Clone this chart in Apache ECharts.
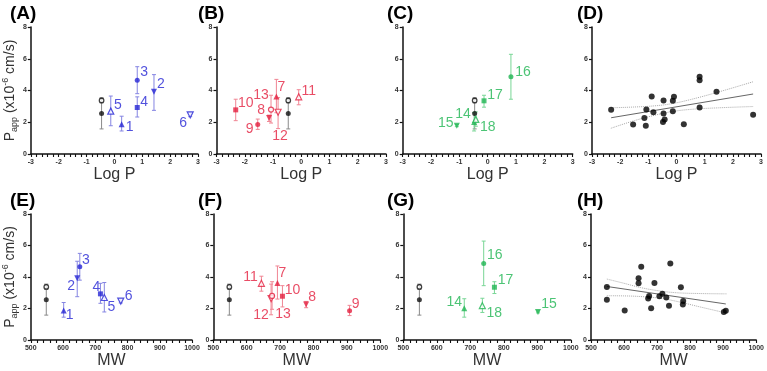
<!DOCTYPE html>
<html><head><meta charset="utf-8">
<script src="https://cdn.jsdelivr.net/npm/echarts@6/dist/echarts.min.js"></script>
<style>html,body{margin:0;padding:0;background:#fff}#c{width:767px;height:371px}</style>
</head><body><div id="c"></div>
<script>
// ---------------- DATA ----------------
const compoundIds = ['1','2','3','4','5','6','7','8','9','10','11','12','13','14','15','16','17','18'];
const logP     = [0.26, 1.42, 0.82, 0.82, -0.13, 2.72, -0.88, -1.14, -1.54, -2.32, -0.09, -0.82, -1.07, -0.48, -1.09, 0.82, -0.13, -0.42];
const mw       = [602, 644, 652, 716, 728, 779, 692, 778, 908, 707, 644, 673, 676, 682, 902, 740, 772, 736];
const papp     = [1.87, 3.92, 4.65, 2.93, 2.70, 2.47, 3.62, 2.26, 1.86, 2.78, 3.60, 2.63, 2.80, 2.02, 1.78, 4.86, 3.35, 2.18];
const pappLow  = [1.45, 2.75, 3.80, 2.33, 1.78, 2.35, 2.60, 2.05, 1.55, 2.10, 3.10, 1.60, 1.95, 1.45, 1.72, 3.45, 2.95, 1.75];
const pappHigh = [2.38, 5.00, 5.50, 3.60, 3.65, 2.62, 4.70, 2.45, 2.20, 3.45, 4.05, 3.55, 3.70, 2.62, 1.85, 6.28, 3.70, 2.65];
const groupOf  = [0,0,0,0,0,0, 1,1,1,1,1,1,1, 2,2,2,2,2];
const ctrlLogP = [-0.46, -0.46];
const ctrlMW   = [548, 548];
const ctrlPapp = [3.37, 2.55];
const ctrlLow  = [3.22, 1.58];
const ctrlHigh = [3.55, 3.50];
const yTickValues = [0, 2, 4, 6, 8];
const logPTickValues = [-3, -2, -1, 0, 1, 2, 3];
const mwTickValues = [500, 600, 700, 800, 900, 1000];
const minorPerMajor = 5;
// 95% confidence bands
const ciLogPX     = [-2.33, -1.5, -0.8, -0.2, 0.5, 1.5, 2.72];
const ciLogPUpper = [2.91, 2.96, 3.03, 3.16, 3.43, 3.91, 4.55];
const ciLogPLower = [1.62, 2.10, 2.43, 2.66, 2.81, 2.91, 2.99];
const ciMWX       = [548, 600, 650, 706, 760, 830, 912];
const ciMWUpper   = [3.87, 3.60, 3.33, 3.12, 3.00, 2.95, 2.93];
const ciMWLower   = [2.81, 2.80, 2.76, 2.66, 2.45, 2.10, 1.70];
const panelLetters = ['(A)','(B)','(C)','(D)','(E)','(F)','(G)','(H)'];

// ---------------- STYLE ----------------
const FONT = 'Arial, "Liberation Sans", Helvetica, sans-serif';
const groupColors = ['#2626d4', '#e41f3f', '#1fb552'];
const groupBarColors = ['#8585e2', '#f08593', '#79d696'];
const ctrlBarColor = '#8a8a8a';
const shapes = [
  ['triangle',0,false],['triangle',180,false],['circle',0,false],['rect',0,false],['triangle',0,true],['triangle',180,true],
  ['triangle',0,false],['triangle',180,false],['circle',0,false],['rect',0,false],['triangle',0,true],['triangle',180,true],['circle',0,true],
  ['triangle',0,false],['triangle',180,false],['circle',0,false],['rect',0,false],['triangle',0,true]
];
const labelOffsetTop = [[8,3],[7,-8],[7,-8],[7,-5],[7,-6],[-7,8],[5,-9],[-8,-8],[-8,5],[10,-7],[10,-6],[2,24],[-10,-14],[-11,-8],[-11,-3],[12,-5],[11,-6],[12,8]];
const labelOffsetBot = [[6,5],[-6,8],[6,-7],[-4,-7],[7,10],[8,-5],[5,-10],[6,-7],[6,-7],[10,-6],[-11,-6],[-10,17],[11,18],[-10,-6],[11,-8],[11,-8],[11,-7],[12,7]];
const grids = [
  {left:26.5, top:27, width:171.5, height:127},
  {left:216.5, top:27, width:169.5, height:127},
  {left:402.7, top:27, width:170, height:127},
  {left:592, top:27, width:169, height:127},
  {left:26, top:214, width:166, height:126},
  {left:213.3, top:214, width:167, height:126},
  {left:403.3, top:214, width:167.5, height:126},
  {left:591, top:214, width:168.5, height:126}
];
const letterPos = [[10,4],[198,4],[387,4],[577,4],[10,191],[198,191],[387,191],[577,191]];

// ---------------- BUILD ----------------
const axisLineStyle = {color:'#111', width:1.5};
function xAxisFor(i){
  const top = i < 4;
  const ticks = top ? logPTickValues : mwTickValues;
  const major = ticks[1] - ticks[0];
  const step = major / minorPerMajor;
  return {
    gridIndex:i, type:'value',
    min: ticks[0], max: ticks[ticks.length-1], interval: step,
    name: top ? 'Log P' : 'MW', nameLocation:'middle', nameGap: 13,
    nameTextStyle:{fontFamily:FONT, fontSize:16, color:'#333'},
    axisLine:{onZero:false, lineStyle:axisLineStyle},
    axisTick:{length:3, lineStyle:{color:'#111', width:1.1}},
    splitLine:{show:false},
    axisLabel:{fontFamily:FONT, fontSize:7, fontWeight:'bold', color:'#333', margin:5,
      showMinLabel:true, showMaxLabel:true,
      formatter: v => {
        const r = Math.round(v / major) * major;
        return Math.abs(v - r) < step * 1e-3 ? String(r) : '';
      }}
  };
}
function yAxisFor(i){
  const ax = {
    gridIndex:i, type:'value', min:yTickValues[0], max:yTickValues[yTickValues.length-1], interval:yTickValues[1]-yTickValues[0],
    axisLine:{show:true, onZero:false, lineStyle:axisLineStyle},
    axisTick:{show:true, length:3, lineStyle:{color:'#111', width:1.2}},
    splitLine:{show:false},
    axisLabel:{fontFamily:FONT, fontSize:7, fontWeight:'bold', color:'#333', margin:4}
  };
  if (i === 0 || i === 4) {
    ax.name = '{m|P}{s|app}{m| (x10}{u|-6}{m| cm/s)}';
    ax.nameLocation = 'middle';
    ax.nameGap = 9;
    ax.nameTextStyle = {rich:{
      m:{fontFamily:FONT, fontSize:14, color:'#333', lineHeight:18, verticalAlign:'middle'},
      s:{fontFamily:FONT, fontSize:9, color:'#333', lineHeight:18, verticalAlign:'bottom'},
      u:{fontFamily:FONT, fontSize:9, color:'#333', lineHeight:18, verticalAlign:'top'}
    }};
  }
  return ax;
}

function errorBarRender(params, api){
  const x = api.value(0), lo = api.value(1), hi = api.value(2);
  const a = api.coord([x, lo]), b = api.coord([x, hi]);
  const col = api.visual('color');
  const w = 2;
  const st = {stroke: col, lineWidth: 1};
  return {type:'group', children:[
    {type:'line', shape:{x1:a[0], y1:a[1], x2:b[0], y2:b[1]}, style:st},
    {type:'line', shape:{x1:a[0]-w, y1:a[1], x2:a[0]+w, y2:a[1]}, style:st},
    {type:'line', shape:{x1:b[0]-w, y1:b[1], x2:b[0]+w, y2:b[1]}, style:st}
  ]};
}

const series = [];
for (let g = 0; g < 3; g++) {
  for (let row = 0; row < 2; row++) {
    const gi = row === 0 ? g : g + 4;
    const xs = row === 0 ? logP : mw;
    const cx = row === 0 ? ctrlLogP : ctrlMW;
    const offs = row === 0 ? labelOffsetTop : labelOffsetBot;
    const errData = [];
    const ptData = [];
    for (let k = 0; k < ctrlPapp.length; k++) {
      errData.push({value:[cx[k], ctrlLow[k], ctrlHigh[k]], itemStyle:{color:ctrlBarColor}});
      ptData.push({value:[cx[k], ctrlPapp[k]], symbol:'circle', symbolSize: k === 0 ? 4.5 : 5,
        itemStyle: k === 0 ? {color:'#fff', borderColor:'#111', borderWidth:1.3} : {color:'#111'}});
    }
    for (let j = 0; j < compoundIds.length; j++) {
      if (groupOf[j] !== g) continue;
      const col = groupColors[g];
      errData.push({value:[xs[j], pappLow[j], pappHigh[j]], itemStyle:{color:groupBarColors[g]}});
      const sh = shapes[j];
      ptData.push({
        value:[xs[j], papp[j]], symbol: sh[0], symbolRotate: sh[1],
        symbolSize: sh[0] === 'rect' ? 5 : (sh[0] === 'circle' ? 5 : 6),
        itemStyle: sh[2] ? {color:'#fff', borderColor:col, borderWidth:1.2} : {color:col},
        label:{show:true, formatter: compoundIds[j], position:'inside', offset: offs[j],
          color: col, fontSize: 14, fontFamily: FONT}
      });
    }
    series.push({type:'custom', xAxisIndex:gi, yAxisIndex:gi, renderItem:errorBarRender,
      encode:{x:0, y:[1,2]}, data:errData, z:2, silent:true, clip:false});
    series.push({type:'scatter', xAxisIndex:gi, yAxisIndex:gi, data:ptData, z:3, silent:true});
  }
}

function linreg(xs, ys){
  const n = xs.length;
  let mx = 0, my = 0;
  for (let i = 0; i < n; i++) { mx += xs[i]; my += ys[i]; }
  mx /= n; my /= n;
  let sxx = 0, sxy = 0;
  for (let i = 0; i < n; i++) { sxx += (xs[i]-mx)*(xs[i]-mx); sxy += (xs[i]-mx)*(ys[i]-my); }
  const b = sxy / sxx;
  return {b, a: my - b*mx};
}
const allP = papp.concat(ctrlPapp);
[[3, logP.concat(ctrlLogP), ciLogPX, ciLogPUpper, ciLogPLower],
 [7, mw.concat(ctrlMW), ciMWX, ciMWUpper, ciMWLower]].forEach(([gi, xs, cX, cU, cL]) => {
  const r = linreg(xs, allP);
  const xmin = Math.min(...xs), xmax = Math.max(...xs);
  series.push({type:'line', xAxisIndex:gi, yAxisIndex:gi, data:[[xmin, r.a + r.b*xmin],[xmax, r.a + r.b*xmax]],
    showSymbol:false, lineStyle:{color:'#666', width:1}, z:2, silent:true});
  series.push({type:'line', xAxisIndex:gi, yAxisIndex:gi, data:cX.map((x,i)=>[x,cU[i]]), smooth:0.4,
    showSymbol:false, lineStyle:{color:'#aaa', width:1, type:'dotted'}, z:2, silent:true});
  series.push({type:'line', xAxisIndex:gi, yAxisIndex:gi, data:cX.map((x,i)=>[x,cL[i]]), smooth:0.4,
    showSymbol:false, lineStyle:{color:'#aaa', width:1, type:'dotted'}, z:2, silent:true});
  series.push({type:'scatter', xAxisIndex:gi, yAxisIndex:gi, data:xs.map((x,i)=>[x, allP[i]]),
    symbol:'circle', symbolSize:6, itemStyle:{color:'#000'}, z:3, silent:true});
});

const option = {
  animation:false,
  backgroundColor:'#fff',
  grid: grids.map(g => Object.assign({containLabel:false}, g)),
  xAxis: grids.map((g,i) => xAxisFor(i)),
  yAxis: grids.map((g,i) => yAxisFor(i)),
  series,
  graphic: panelLetters.map((t,i) => ({type:'text', left:letterPos[i][0], top:letterPos[i][1],
    style:{text:t, font:'bold 19px ' + FONT, fill:'#000'}}))
};
const chart = echarts.init(document.getElementById('c'));
chart.setOption(option);
</script>
</body></html>
